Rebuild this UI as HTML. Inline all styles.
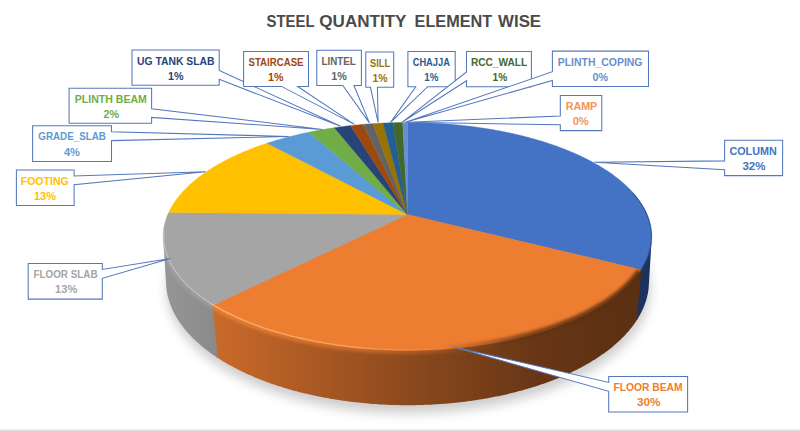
<!DOCTYPE html>
<html><head><meta charset="utf-8"><title>Steel Quantity Element Wise</title>
<style>
html,body{margin:0;padding:0;background:#fff;}
body{width:800px;height:431px;position:relative;overflow:hidden;font-family:"Liberation Sans",sans-serif;}
.lb{font:bold 10.5px "Liberation Sans",sans-serif;}
</style></head><body>
<svg width="800" height="431" viewBox="0 0 800 431" style="position:absolute;left:0;top:0">
<defs>
<linearGradient id="gO" gradientUnits="userSpaceOnUse" x1="214" y1="0" x2="645" y2="0">
<stop offset="0" stop-color="#C96A2A"/><stop offset="0.25" stop-color="#A85823"/><stop offset="0.5" stop-color="#86461C"/><stop offset="0.75" stop-color="#683616"/><stop offset="1" stop-color="#5A2F13"/>
</linearGradient>
<linearGradient id="gG" gradientUnits="userSpaceOnUse" x1="163" y1="0" x2="216" y2="0">
<stop offset="0" stop-color="#969696"/><stop offset="1" stop-color="#8A8A8A"/>
</linearGradient>
<filter id="blur6" x="-20%" y="-20%" width="140%" height="140%"><feGaussianBlur stdDeviation="6"/></filter>
<filter id="blur2" x="-20%" y="-20%" width="140%" height="140%"><feGaussianBlur stdDeviation="1.6"/></filter>
<linearGradient id="gHiO" gradientUnits="userSpaceOnUse" x1="214" y1="0" x2="520" y2="0">
<stop offset="0" stop-color="#F08537" stop-opacity="0.75"/><stop offset="0.5" stop-color="#E87B30" stop-opacity="0.55"/><stop offset="1" stop-color="#E0742C" stop-opacity="0"/>
</linearGradient>
<linearGradient id="gDk" gradientUnits="userSpaceOnUse" x1="440" y1="0" x2="650" y2="0">
<stop offset="0" stop-color="#6B3917" stop-opacity="0"/><stop offset="0.4" stop-color="#63340F" stop-opacity="0.75"/><stop offset="1" stop-color="#552B0C" stop-opacity="0.9"/>
</linearGradient>
<linearGradient id="gEdgeO" gradientUnits="userSpaceOnUse" x1="214" y1="0" x2="450" y2="0">
<stop offset="0" stop-color="#FFB274" stop-opacity="0.95"/><stop offset="0.6" stop-color="#FBA766" stop-opacity="0.8"/><stop offset="1" stop-color="#F59B58" stop-opacity="0"/>
</linearGradient>
<clipPath id="pieclip"><polygon points="407.50,122.50 411.01,122.51 414.51,122.54 418.02,122.60 421.52,122.68 425.02,122.79 428.52,122.92 432.02,123.07 435.51,123.25 438.99,123.45 442.48,123.67 445.95,123.92 449.42,124.19 452.89,124.48 456.34,124.80 459.79,125.14 463.23,125.50 466.66,125.89 470.09,126.30 473.50,126.74 476.90,127.19 480.29,127.67 483.67,128.18 487.03,128.71 490.38,129.26 493.72,129.83 497.05,130.43 500.36,131.05 503.65,131.70 506.93,132.37 510.19,133.06 513.43,133.77 516.66,134.51 519.87,135.27 523.05,136.06 526.22,136.86 529.37,137.69 532.49,138.55 535.60,139.43 538.68,140.33 541.73,141.25 544.77,142.19 547.78,143.16 550.76,144.16 553.71,145.17 556.64,146.21 559.55,147.27 562.42,148.35 565.26,149.46 568.08,150.58 570.86,151.73 573.61,152.91 576.33,154.10 579.02,155.32 581.67,156.56 584.29,157.82 586.87,159.10 589.41,160.41 591.92,161.73 594.39,163.08 596.82,164.45 599.21,165.84 601.56,167.25 603.87,168.68 606.14,170.14 608.36,171.61 610.54,173.11 612.68,174.62 614.77,176.16 616.81,177.71 618.80,179.28 620.75,180.88 622.64,182.49 624.49,184.12 626.28,185.77 628.02,187.44 629.71,189.13 631.34,190.84 632.92,192.56 634.45,194.30 635.91,196.06 637.32,197.83 638.66,199.62 639.95,201.43 641.18,203.25 642.34,205.09 643.45,206.95 644.48,208.81 645.46,210.70 646.37,212.59 647.21,214.50 647.98,216.42 648.69,218.36 649.32,220.30 649.89,222.26 650.38,224.23 650.80,226.21 651.15,228.20 651.43,230.20 651.63,232.20 651.75,234.22 651.80,236.24 651.77,238.27 651.66,240.31 651.48,242.35 651.21,244.40 650.87,246.45 650.44,248.51 649.93,250.57 649.34,252.63 648.67,254.69 647.91,256.76 647.07,258.82 646.15,260.88 645.14,262.95 644.04,265.01 642.86,267.06 641.59,269.12 640.24,271.16 638.79,273.21 637.26,275.24 635.65,277.27 633.94,279.29 632.15,281.30 630.27,283.30 628.30,285.29 626.24,287.27 624.10,289.24 621.86,291.19 619.54,293.12 617.13,295.04 614.64,296.95 612.05,298.83 609.38,300.70 606.63,302.55 603.79,304.38 600.86,306.18 597.85,307.97 594.75,309.73 591.57,311.46 588.31,313.17 584.97,314.85 581.55,316.51 578.05,318.13 574.47,319.73 570.81,321.29 567.08,322.83 563.27,324.33 559.38,325.80 555.43,327.23 551.41,328.63 547.31,329.99 543.15,331.32 538.93,332.61 534.63,333.86 530.28,335.07 525.87,336.23 521.40,337.36 516.87,338.45 512.28,339.49 507.65,340.49 502.96,341.45 498.23,342.36 493.45,343.22 488.62,344.04 483.76,344.81 478.85,345.54 473.91,346.22 468.94,346.85 463.93,347.43 458.89,347.96 453.83,348.44 448.74,348.87 443.63,349.26 438.51,349.59 433.36,349.87 428.21,350.10 423.04,350.28 417.86,350.41 412.68,350.48 407.50,350.51 402.32,350.48 397.14,350.41 391.96,350.28 386.79,350.10 381.64,349.87 376.49,349.59 371.37,349.26 366.26,348.87 361.17,348.44 356.11,347.96 351.07,347.43 346.06,346.85 341.09,346.22 336.15,345.54 331.24,344.81 326.38,344.04 321.55,343.22 316.77,342.36 312.04,341.45 307.35,340.49 302.72,339.49 298.13,338.45 293.60,337.36 289.13,336.23 284.72,335.07 280.37,333.86 276.07,332.61 271.85,331.32 267.69,329.99 263.59,328.63 259.57,327.23 255.62,325.80 251.73,324.33 247.92,322.83 244.19,321.29 240.53,319.73 236.95,318.13 233.45,316.51 230.03,314.85 226.69,313.17 223.43,311.46 220.25,309.73 217.15,307.97 214.14,306.18 211.21,304.38 208.37,302.55 205.62,300.70 202.95,298.83 200.36,296.95 197.87,295.04 195.46,293.12 193.14,291.19 190.90,289.24 188.76,287.27 186.70,285.29 184.73,283.30 182.85,281.30 181.06,279.29 179.35,277.27 177.74,275.24 176.21,273.21 174.76,271.16 173.41,269.12 172.14,267.06 170.96,265.01 169.86,262.95 168.85,260.88 167.93,258.82 167.09,256.76 166.33,254.69 165.66,252.63 165.07,250.57 164.56,248.51 164.13,246.45 163.79,244.40 163.52,242.35 163.34,240.31 163.23,238.27 163.20,236.24 163.25,234.22 163.37,232.20 163.57,230.20 163.85,228.20 164.20,226.21 164.62,224.23 165.11,222.26 165.68,220.30 166.31,218.36 167.02,216.42 167.79,214.50 168.63,212.59 169.54,210.70 170.52,208.81 171.55,206.95 172.66,205.09 173.82,203.25 175.05,201.43 176.34,199.62 177.68,197.83 179.09,196.06 180.55,194.30 182.08,192.56 183.66,190.84 185.29,189.13 186.98,187.44 188.72,185.77 190.51,184.12 192.36,182.49 194.25,180.88 196.20,179.28 198.19,177.71 200.23,176.16 202.32,174.62 204.46,173.11 206.64,171.61 208.86,170.14 211.13,168.68 213.44,167.25 215.79,165.84 218.18,164.45 220.61,163.08 223.08,161.73 225.59,160.41 228.13,159.10 230.71,157.82 233.33,156.56 235.98,155.32 238.67,154.10 241.39,152.91 244.14,151.73 246.92,150.58 249.74,149.46 252.58,148.35 255.45,147.27 258.36,146.21 261.29,145.17 264.24,144.16 267.22,143.16 270.23,142.19 273.27,141.25 276.32,140.33 279.40,139.43 282.51,138.55 285.63,137.69 288.78,136.86 291.95,136.06 295.13,135.27 298.34,134.51 301.57,133.77 304.81,133.06 308.07,132.37 311.35,131.70 314.64,131.05 317.95,130.43 321.28,129.83 324.62,129.26 327.97,128.71 331.33,128.18 334.71,127.67 338.10,127.19 341.50,126.74 344.91,126.30 348.34,125.89 351.77,125.50 355.21,125.14 358.66,124.80 362.11,124.48 365.58,124.19 369.05,123.92 372.52,123.67 376.01,123.45 379.49,123.25 382.98,123.07 386.48,122.92 389.98,122.79 393.48,122.68 396.98,122.60 400.49,122.54 403.99,122.51 407.50,122.50"/><polygon points="651.69,239.87 651.52,241.92 651.28,243.97 650.95,246.03 650.54,248.09 650.04,250.15 649.47,252.22 648.81,254.29 648.07,256.36 647.24,258.43 646.33,260.50 645.33,262.57 644.25,264.63 643.08,266.69 641.82,268.75 640.48,270.81 639.05,272.86 637.53,274.90 635.92,276.94 634.22,278.96 632.44,280.98 630.57,282.99 628.61,284.99 626.56,286.97 624.42,288.95 622.19,290.90 619.88,292.85 617.47,294.78 614.98,296.69 612.41,298.58 609.74,300.46 606.99,302.31 604.15,304.15 601.22,305.96 598.21,307.75 595.12,309.52 591.94,311.26 588.68,312.98 585.34,314.67 581.92,316.33 578.41,317.96 574.83,319.57 571.17,321.14 567.43,322.68 563.62,324.19 559.74,325.67 555.78,327.11 551.75,328.52 547.65,329.88 543.48,331.22 539.25,332.51 534.95,333.77 530.59,334.98 526.17,336.16 521.68,337.29 517.15,338.38 512.55,339.43 507.91,340.44 503.21,341.40 498.47,342.31 493.67,343.18 488.84,344.01 483.96,344.78 479.05,345.51 474.09,346.19 469.10,346.83 464.08,347.41 459.03,347.94 453.96,348.43 448.86,348.86 443.74,349.25 438.59,349.58 433.44,349.87 428.27,350.10 423.08,350.28 417.89,350.41 412.70,350.48 407.50,350.51 402.30,350.48 397.11,350.41 391.92,350.28 386.73,350.10 381.56,349.87 376.41,349.58 371.26,349.25 366.14,348.86 361.04,348.43 355.97,347.94 350.92,347.41 345.90,346.83 340.91,346.19 335.95,345.51 331.04,344.78 326.16,344.01 321.33,343.18 316.53,342.31 311.79,341.40 307.09,340.44 302.45,339.43 297.85,338.38 293.32,337.29 288.83,336.16 284.41,334.98 280.05,333.77 275.75,332.51 271.52,331.22 267.35,329.88 263.25,328.52 259.22,327.11 255.26,325.67 251.38,324.19 247.57,322.68 243.83,321.14 240.17,319.57 236.59,317.96 233.08,316.33 229.66,314.67 226.32,312.98 223.06,311.26 219.88,309.52 216.79,307.75 213.78,305.96 210.85,304.15 208.01,302.31 205.26,300.46 202.59,298.58 200.02,296.69 197.53,294.78 195.12,292.85 192.81,290.90 190.58,288.95 188.44,286.97 186.39,284.99 184.43,282.99 182.56,280.98 180.78,278.96 179.08,276.94 177.47,274.90 175.95,272.86 174.52,270.81 173.18,268.75 171.92,266.69 170.75,264.63 169.67,262.57 168.67,260.50 167.76,258.43 166.93,256.36 166.19,254.29 165.53,252.22 164.96,250.15 164.46,248.09 164.05,246.03 163.72,243.97 163.48,241.92 163.31,239.87 166.34,287.81 166.61,290.03 166.96,292.25 167.39,294.48 167.90,296.71 168.49,298.95 169.16,301.18 169.91,303.41 170.74,305.64 171.65,307.87 172.65,310.10 173.73,312.33 174.90,314.55 176.15,316.76 177.48,318.97 178.89,321.17 180.39,323.37 181.98,325.56 183.65,327.73 185.40,329.90 187.24,332.05 189.17,334.20 191.18,336.32 193.27,338.44 195.45,340.54 197.71,342.62 200.05,344.69 202.48,346.73 204.99,348.76 207.59,350.77 210.27,352.76 213.02,354.72 215.86,356.66 218.78,358.58 221.78,360.47 224.86,362.33 228.02,364.17 231.26,365.98 234.57,367.75 237.95,369.50 241.42,371.22 244.95,372.91 248.56,374.56 252.24,376.18 255.98,377.76 259.80,379.30 263.68,380.81 267.63,382.29 271.64,383.72 275.72,385.11 279.86,386.46 284.05,387.78 288.31,389.04 292.62,390.27 296.98,391.45 301.40,392.59 305.86,393.68 310.38,394.73 314.94,395.73 319.54,396.68 324.19,397.59 328.88,398.44 333.60,399.25 338.37,400.01 343.16,400.72 347.99,401.38 352.85,401.98 357.73,402.54 362.64,403.04 367.56,403.49 372.51,403.89 377.48,404.24 382.46,404.53 387.45,404.77 392.46,404.96 397.47,405.09 402.48,405.17 407.50,405.20 412.52,405.17 417.53,405.09 422.54,404.96 427.55,404.77 432.54,404.53 437.52,404.24 442.49,403.89 447.44,403.49 452.36,403.04 457.27,402.54 462.15,401.98 467.01,401.38 471.84,400.72 476.63,400.01 481.40,399.25 486.12,398.44 490.81,397.59 495.46,396.68 500.06,395.73 504.62,394.73 509.14,393.68 513.60,392.59 518.02,391.45 522.38,390.27 526.69,389.04 530.95,387.78 535.14,386.46 539.28,385.11 543.36,383.72 547.37,382.29 551.32,380.81 555.20,379.30 559.02,377.76 562.76,376.18 566.44,374.56 570.05,372.91 573.58,371.22 577.05,369.50 580.43,367.75 583.74,365.98 586.98,364.17 590.14,362.33 593.22,360.47 596.22,358.58 599.14,356.66 601.98,354.72 604.73,352.76 607.41,350.77 610.01,348.76 612.52,346.73 614.95,344.69 617.29,342.62 619.55,340.54 621.73,338.44 623.82,336.32 625.83,334.20 627.76,332.05 629.60,329.90 631.35,327.73 633.02,325.56 634.61,323.37 636.11,321.17 637.52,318.97 638.85,316.76 640.10,314.55 641.27,312.33 642.35,310.10 643.35,307.87 644.26,305.64 645.09,303.41 645.84,301.18 646.51,298.95 647.10,296.71 647.61,294.48 648.04,292.25 648.39,290.03 648.66,287.81"/></clipPath>
<clipPath id="sideclip"><polygon points="651.69,239.87 651.52,241.92 651.28,243.97 650.95,246.03 650.54,248.09 650.04,250.15 649.47,252.22 648.81,254.29 648.07,256.36 647.24,258.43 646.33,260.50 645.33,262.57 644.25,264.63 643.08,266.69 641.82,268.75 640.48,270.81 639.05,272.86 637.53,274.90 635.92,276.94 634.22,278.96 632.44,280.98 630.57,282.99 628.61,284.99 626.56,286.97 624.42,288.95 622.19,290.90 619.88,292.85 617.47,294.78 614.98,296.69 612.41,298.58 609.74,300.46 606.99,302.31 604.15,304.15 601.22,305.96 598.21,307.75 595.12,309.52 591.94,311.26 588.68,312.98 585.34,314.67 581.92,316.33 578.41,317.96 574.83,319.57 571.17,321.14 567.43,322.68 563.62,324.19 559.74,325.67 555.78,327.11 551.75,328.52 547.65,329.88 543.48,331.22 539.25,332.51 534.95,333.77 530.59,334.98 526.17,336.16 521.68,337.29 517.15,338.38 512.55,339.43 507.91,340.44 503.21,341.40 498.47,342.31 493.67,343.18 488.84,344.01 483.96,344.78 479.05,345.51 474.09,346.19 469.10,346.83 464.08,347.41 459.03,347.94 453.96,348.43 448.86,348.86 443.74,349.25 438.59,349.58 433.44,349.87 428.27,350.10 423.08,350.28 417.89,350.41 412.70,350.48 407.50,350.51 402.30,350.48 397.11,350.41 391.92,350.28 386.73,350.10 381.56,349.87 376.41,349.58 371.26,349.25 366.14,348.86 361.04,348.43 355.97,347.94 350.92,347.41 345.90,346.83 340.91,346.19 335.95,345.51 331.04,344.78 326.16,344.01 321.33,343.18 316.53,342.31 311.79,341.40 307.09,340.44 302.45,339.43 297.85,338.38 293.32,337.29 288.83,336.16 284.41,334.98 280.05,333.77 275.75,332.51 271.52,331.22 267.35,329.88 263.25,328.52 259.22,327.11 255.26,325.67 251.38,324.19 247.57,322.68 243.83,321.14 240.17,319.57 236.59,317.96 233.08,316.33 229.66,314.67 226.32,312.98 223.06,311.26 219.88,309.52 216.79,307.75 213.78,305.96 210.85,304.15 208.01,302.31 205.26,300.46 202.59,298.58 200.02,296.69 197.53,294.78 195.12,292.85 192.81,290.90 190.58,288.95 188.44,286.97 186.39,284.99 184.43,282.99 182.56,280.98 180.78,278.96 179.08,276.94 177.47,274.90 175.95,272.86 174.52,270.81 173.18,268.75 171.92,266.69 170.75,264.63 169.67,262.57 168.67,260.50 167.76,258.43 166.93,256.36 166.19,254.29 165.53,252.22 164.96,250.15 164.46,248.09 164.05,246.03 163.72,243.97 163.48,241.92 163.31,239.87 166.34,287.81 166.61,290.03 166.96,292.25 167.39,294.48 167.90,296.71 168.49,298.95 169.16,301.18 169.91,303.41 170.74,305.64 171.65,307.87 172.65,310.10 173.73,312.33 174.90,314.55 176.15,316.76 177.48,318.97 178.89,321.17 180.39,323.37 181.98,325.56 183.65,327.73 185.40,329.90 187.24,332.05 189.17,334.20 191.18,336.32 193.27,338.44 195.45,340.54 197.71,342.62 200.05,344.69 202.48,346.73 204.99,348.76 207.59,350.77 210.27,352.76 213.02,354.72 215.86,356.66 218.78,358.58 221.78,360.47 224.86,362.33 228.02,364.17 231.26,365.98 234.57,367.75 237.95,369.50 241.42,371.22 244.95,372.91 248.56,374.56 252.24,376.18 255.98,377.76 259.80,379.30 263.68,380.81 267.63,382.29 271.64,383.72 275.72,385.11 279.86,386.46 284.05,387.78 288.31,389.04 292.62,390.27 296.98,391.45 301.40,392.59 305.86,393.68 310.38,394.73 314.94,395.73 319.54,396.68 324.19,397.59 328.88,398.44 333.60,399.25 338.37,400.01 343.16,400.72 347.99,401.38 352.85,401.98 357.73,402.54 362.64,403.04 367.56,403.49 372.51,403.89 377.48,404.24 382.46,404.53 387.45,404.77 392.46,404.96 397.47,405.09 402.48,405.17 407.50,405.20 412.52,405.17 417.53,405.09 422.54,404.96 427.55,404.77 432.54,404.53 437.52,404.24 442.49,403.89 447.44,403.49 452.36,403.04 457.27,402.54 462.15,401.98 467.01,401.38 471.84,400.72 476.63,400.01 481.40,399.25 486.12,398.44 490.81,397.59 495.46,396.68 500.06,395.73 504.62,394.73 509.14,393.68 513.60,392.59 518.02,391.45 522.38,390.27 526.69,389.04 530.95,387.78 535.14,386.46 539.28,385.11 543.36,383.72 547.37,382.29 551.32,380.81 555.20,379.30 559.02,377.76 562.76,376.18 566.44,374.56 570.05,372.91 573.58,371.22 577.05,369.50 580.43,367.75 583.74,365.98 586.98,364.17 590.14,362.33 593.22,360.47 596.22,358.58 599.14,356.66 601.98,354.72 604.73,352.76 607.41,350.77 610.01,348.76 612.52,346.73 614.95,344.69 617.29,342.62 619.55,340.54 621.73,338.44 623.82,336.32 625.83,334.20 627.76,332.05 629.60,329.90 631.35,327.73 633.02,325.56 634.61,323.37 636.11,321.17 637.52,318.97 638.85,316.76 640.10,314.55 641.27,312.33 642.35,310.10 643.35,307.87 644.26,305.64 645.09,303.41 645.84,301.18 646.51,298.95 647.10,296.71 647.61,294.48 648.04,292.25 648.39,290.03 648.66,287.81"/></clipPath>
<clipPath id="topclip"><polygon points="407.50,122.50 411.01,122.51 414.51,122.54 418.02,122.60 421.52,122.68 425.02,122.79 428.52,122.92 432.02,123.07 435.51,123.25 438.99,123.45 442.48,123.67 445.95,123.92 449.42,124.19 452.89,124.48 456.34,124.80 459.79,125.14 463.23,125.50 466.66,125.89 470.09,126.30 473.50,126.74 476.90,127.19 480.29,127.67 483.67,128.18 487.03,128.71 490.38,129.26 493.72,129.83 497.05,130.43 500.36,131.05 503.65,131.70 506.93,132.37 510.19,133.06 513.43,133.77 516.66,134.51 519.87,135.27 523.05,136.06 526.22,136.86 529.37,137.69 532.49,138.55 535.60,139.43 538.68,140.33 541.73,141.25 544.77,142.19 547.78,143.16 550.76,144.16 553.71,145.17 556.64,146.21 559.55,147.27 562.42,148.35 565.26,149.46 568.08,150.58 570.86,151.73 573.61,152.91 576.33,154.10 579.02,155.32 581.67,156.56 584.29,157.82 586.87,159.10 589.41,160.41 591.92,161.73 594.39,163.08 596.82,164.45 599.21,165.84 601.56,167.25 603.87,168.68 606.14,170.14 608.36,171.61 610.54,173.11 612.68,174.62 614.77,176.16 616.81,177.71 618.80,179.28 620.75,180.88 622.64,182.49 624.49,184.12 626.28,185.77 628.02,187.44 629.71,189.13 631.34,190.84 632.92,192.56 634.45,194.30 635.91,196.06 637.32,197.83 638.66,199.62 639.95,201.43 641.18,203.25 642.34,205.09 643.45,206.95 644.48,208.81 645.46,210.70 646.37,212.59 647.21,214.50 647.98,216.42 648.69,218.36 649.32,220.30 649.89,222.26 650.38,224.23 650.80,226.21 651.15,228.20 651.43,230.20 651.63,232.20 651.75,234.22 651.80,236.24 651.77,238.27 651.66,240.31 651.48,242.35 651.21,244.40 650.87,246.45 650.44,248.51 649.93,250.57 649.34,252.63 648.67,254.69 647.91,256.76 647.07,258.82 646.15,260.88 645.14,262.95 644.04,265.01 642.86,267.06 641.59,269.12 640.24,271.16 638.79,273.21 637.26,275.24 635.65,277.27 633.94,279.29 632.15,281.30 630.27,283.30 628.30,285.29 626.24,287.27 624.10,289.24 621.86,291.19 619.54,293.12 617.13,295.04 614.64,296.95 612.05,298.83 609.38,300.70 606.63,302.55 603.79,304.38 600.86,306.18 597.85,307.97 594.75,309.73 591.57,311.46 588.31,313.17 584.97,314.85 581.55,316.51 578.05,318.13 574.47,319.73 570.81,321.29 567.08,322.83 563.27,324.33 559.38,325.80 555.43,327.23 551.41,328.63 547.31,329.99 543.15,331.32 538.93,332.61 534.63,333.86 530.28,335.07 525.87,336.23 521.40,337.36 516.87,338.45 512.28,339.49 507.65,340.49 502.96,341.45 498.23,342.36 493.45,343.22 488.62,344.04 483.76,344.81 478.85,345.54 473.91,346.22 468.94,346.85 463.93,347.43 458.89,347.96 453.83,348.44 448.74,348.87 443.63,349.26 438.51,349.59 433.36,349.87 428.21,350.10 423.04,350.28 417.86,350.41 412.68,350.48 407.50,350.51 402.32,350.48 397.14,350.41 391.96,350.28 386.79,350.10 381.64,349.87 376.49,349.59 371.37,349.26 366.26,348.87 361.17,348.44 356.11,347.96 351.07,347.43 346.06,346.85 341.09,346.22 336.15,345.54 331.24,344.81 326.38,344.04 321.55,343.22 316.77,342.36 312.04,341.45 307.35,340.49 302.72,339.49 298.13,338.45 293.60,337.36 289.13,336.23 284.72,335.07 280.37,333.86 276.07,332.61 271.85,331.32 267.69,329.99 263.59,328.63 259.57,327.23 255.62,325.80 251.73,324.33 247.92,322.83 244.19,321.29 240.53,319.73 236.95,318.13 233.45,316.51 230.03,314.85 226.69,313.17 223.43,311.46 220.25,309.73 217.15,307.97 214.14,306.18 211.21,304.38 208.37,302.55 205.62,300.70 202.95,298.83 200.36,296.95 197.87,295.04 195.46,293.12 193.14,291.19 190.90,289.24 188.76,287.27 186.70,285.29 184.73,283.30 182.85,281.30 181.06,279.29 179.35,277.27 177.74,275.24 176.21,273.21 174.76,271.16 173.41,269.12 172.14,267.06 170.96,265.01 169.86,262.95 168.85,260.88 167.93,258.82 167.09,256.76 166.33,254.69 165.66,252.63 165.07,250.57 164.56,248.51 164.13,246.45 163.79,244.40 163.52,242.35 163.34,240.31 163.23,238.27 163.20,236.24 163.25,234.22 163.37,232.20 163.57,230.20 163.85,228.20 164.20,226.21 164.62,224.23 165.11,222.26 165.68,220.30 166.31,218.36 167.02,216.42 167.79,214.50 168.63,212.59 169.54,210.70 170.52,208.81 171.55,206.95 172.66,205.09 173.82,203.25 175.05,201.43 176.34,199.62 177.68,197.83 179.09,196.06 180.55,194.30 182.08,192.56 183.66,190.84 185.29,189.13 186.98,187.44 188.72,185.77 190.51,184.12 192.36,182.49 194.25,180.88 196.20,179.28 198.19,177.71 200.23,176.16 202.32,174.62 204.46,173.11 206.64,171.61 208.86,170.14 211.13,168.68 213.44,167.25 215.79,165.84 218.18,164.45 220.61,163.08 223.08,161.73 225.59,160.41 228.13,159.10 230.71,157.82 233.33,156.56 235.98,155.32 238.67,154.10 241.39,152.91 244.14,151.73 246.92,150.58 249.74,149.46 252.58,148.35 255.45,147.27 258.36,146.21 261.29,145.17 264.24,144.16 267.22,143.16 270.23,142.19 273.27,141.25 276.32,140.33 279.40,139.43 282.51,138.55 285.63,137.69 288.78,136.86 291.95,136.06 295.13,135.27 298.34,134.51 301.57,133.77 304.81,133.06 308.07,132.37 311.35,131.70 314.64,131.05 317.95,130.43 321.28,129.83 324.62,129.26 327.97,128.71 331.33,128.18 334.71,127.67 338.10,127.19 341.50,126.74 344.91,126.30 348.34,125.89 351.77,125.50 355.21,125.14 358.66,124.80 362.11,124.48 365.58,124.19 369.05,123.92 372.52,123.67 376.01,123.45 379.49,123.25 382.98,123.07 386.48,122.92 389.98,122.79 393.48,122.68 396.98,122.60 400.49,122.54 403.99,122.51 407.50,122.50"/></clipPath>
</defs>
<polygon points="407.50,157.20 414.60,157.25 421.69,157.41 428.78,157.68 435.85,158.06 442.90,158.54 449.93,159.13 456.92,159.82 463.88,160.63 470.81,161.54 477.68,162.55 484.51,163.67 491.29,164.90 498.00,166.24 504.65,167.67 511.22,169.22 517.72,170.87 524.14,172.62 530.47,174.48 536.71,176.44 542.85,178.50 548.88,180.67 554.80,182.94 560.61,185.31 566.29,187.78 571.85,190.34 577.27,193.01 582.54,195.77 587.67,198.63 592.64,201.58 597.45,204.63 602.10,207.77 606.56,210.99 610.85,214.31 614.94,217.71 618.84,221.20 622.54,224.77 626.03,228.41 629.29,232.14 632.34,235.94 635.15,239.81 637.72,243.75 640.05,247.75 642.12,251.82 643.94,255.94 645.48,260.12 646.76,264.35 647.75,268.62 648.46,272.93 648.88,277.28 649.00,281.67 648.81,286.07 648.32,290.50 647.51,294.94 646.39,299.39 644.94,303.85 643.16,308.30 641.06,312.74 638.62,317.16 635.85,321.56 632.75,325.92 629.30,330.25 625.52,334.53 621.41,338.76 616.96,342.92 612.17,347.02 607.06,351.04 601.62,354.97 595.85,358.81 589.77,362.55 583.38,366.18 576.68,369.69 569.69,373.07 562.41,376.33 554.86,379.44 547.04,382.41 538.96,385.22 530.64,387.87 522.09,390.35 513.33,392.66 504.37,394.79 495.22,396.73 485.91,398.48 476.45,400.04 466.85,401.40 457.14,402.55 447.33,403.50 437.44,404.24 427.49,404.77 417.51,405.09 407.50,405.20 397.49,405.09 387.51,404.77 377.56,404.24 367.67,403.50 357.86,402.55 348.15,401.40 338.55,400.04 329.09,398.48 319.78,396.73 310.63,394.79 301.67,392.66 292.91,390.35 284.36,387.87 276.04,385.22 267.96,382.41 260.14,379.44 252.59,376.33 245.31,373.07 238.32,369.69 231.62,366.18 225.23,362.55 219.15,358.81 213.38,354.97 207.94,351.04 202.83,347.02 198.04,342.92 193.59,338.76 189.48,334.53 185.70,330.25 182.25,325.92 179.15,321.56 176.38,317.16 173.94,312.74 171.84,308.30 170.06,303.85 168.61,299.39 167.49,294.94 166.68,290.50 166.19,286.07 166.00,281.67 166.12,277.28 166.54,272.93 167.25,268.62 168.24,264.35 169.52,260.12 171.06,255.94 172.88,251.82 174.95,247.75 177.28,243.75 179.85,239.81 182.66,235.94 185.71,232.14 188.97,228.41 192.46,224.77 196.16,221.20 200.06,217.71 204.15,214.31 208.44,210.99 212.90,207.77 217.55,204.63 222.36,201.58 227.33,198.63 232.46,195.77 237.73,193.01 243.15,190.34 248.71,187.78 254.39,185.31 260.20,182.94 266.12,180.67 272.15,178.50 278.29,176.44 284.53,174.48 290.86,172.62 297.28,170.87 303.78,169.22 310.35,167.67 317.00,166.24 323.71,164.90 330.49,163.67 337.32,162.55 344.19,161.54 351.12,160.63 358.08,159.82 365.07,159.13 372.10,158.54 379.15,158.06 386.22,157.68 393.31,157.41 400.40,157.25 407.50,157.20" fill="#000" opacity="0.2" filter="url(#blur6)" transform="translate(1,8)"/>
<polygon points="641.87,267.48 641.21,268.51 640.53,269.53 639.83,270.56 639.10,271.58 638.36,272.60 637.59,273.62 636.80,274.64 635.98,275.66 635.15,276.67 634.29,277.68 633.42,278.69 632.52,279.70 631.59,280.70 630.65,281.71 629.68,282.71 628.69,283.70 627.68,284.70 626.65,285.69 625.59,286.67 624.52,287.66 623.42,288.64 622.30,289.62 621.15,290.59 619.99,291.56 618.80,292.52 617.59,293.49 616.36,294.44 615.11,295.40 613.83,296.35 612.53,297.29 611.21,298.23 609.87,299.17 608.51,300.10 607.13,301.02 605.72,301.94 604.30,302.86 602.85,303.76 601.38,304.67 599.89,305.57 598.38,306.46 596.84,307.35 595.29,308.23 593.71,309.10 592.12,309.97 590.50,310.83 588.87,311.68 587.21,312.53 585.53,313.37 583.83,314.21 582.11,315.04 580.38,315.86 578.62,316.67 576.84,317.48 575.04,318.27 573.23,319.07 571.39,319.85 569.54,320.62 567.66,321.39 565.77,322.15 563.86,322.90 561.93,323.64 559.98,324.38 558.01,325.10 556.03,325.82 554.03,326.53 552.01,327.23 549.97,327.92 547.92,328.60 545.85,329.27 543.76,329.93 541.65,330.58 539.53,331.23 537.39,331.86 535.24,332.48 533.07,333.10 530.89,333.70 528.69,334.29 526.48,334.88 524.25,335.45 522.00,336.01 519.74,336.56 517.47,337.11 515.19,337.64 512.89,338.16 510.57,338.67 508.25,339.16 505.91,339.65 503.56,340.13 501.20,340.59 498.82,341.04 496.44,341.49 494.04,341.92 491.63,342.34 489.21,342.74 486.78,343.14 484.34,343.52 481.89,343.90 479.43,344.26 476.96,344.60 474.48,344.94 472.00,345.26 469.50,345.58 467.00,345.88 464.49,346.16 461.97,346.44 459.45,346.70 456.92,346.95 454.38,347.19 451.83,347.42 449.28,347.63 446.73,347.83 444.17,348.02 441.60,348.19 439.03,348.36 436.46,348.51 433.88,348.64 431.30,348.77 428.72,348.88 426.13,348.98 423.54,349.06 420.95,349.14 418.35,349.20 415.76,349.24 413.16,349.28 410.57,349.30 407.97,349.31 405.37,349.31 402.78,349.29 400.18,349.26 397.58,349.22 394.99,349.16 392.40,349.09 389.81,349.01 387.22,348.92 384.64,348.81 382.05,348.69 379.47,348.56 376.90,348.41 374.33,348.25 371.76,348.08 369.20,347.90 366.64,347.70 364.09,347.50 361.54,347.27 359.00,347.04 356.47,346.79 353.94,346.54 351.42,346.27 348.91,345.98 346.40,345.69 343.90,345.38 341.41,345.06 338.93,344.73 336.46,344.38 334.00,344.03 331.55,343.66 329.10,343.28 326.67,342.89 324.24,342.49 321.83,342.07 319.43,341.64 317.04,341.21 314.66,340.76 312.29,340.30 309.94,339.82 307.60,339.34 305.27,338.85 302.95,338.34 300.64,337.83 298.35,337.30 296.08,336.76 293.81,336.21 291.56,335.65 289.33,335.09 287.11,334.51 284.91,333.92 282.72,333.32 280.54,332.71 278.38,332.09 276.24,331.46 274.11,330.82 272.00,330.17 269.91,329.51 267.83,328.84 265.77,328.16 263.73,327.48 261.70,326.78 259.69,326.08 257.70,325.36 255.73,324.64 253.77,323.91 251.84,323.17 249.92,322.42 248.02,321.67 246.14,320.90 244.28,320.13 242.43,319.35 240.61,318.56 238.81,317.77 237.02,316.96 235.26,316.15 233.51,315.33 231.79,314.51 230.08,313.68 228.40,312.84 226.73,311.99 225.09,311.14 223.46,310.28 221.86,309.41 220.28,308.54 218.72,307.66 217.18,306.78 215.66,305.89 214.16,304.99 212.68,304.09 211.23,303.19 216.24,356.91 217.69,357.87 219.17,358.82 220.66,359.77 222.17,360.71 223.71,361.64 225.26,362.56 226.83,363.48 228.43,364.40 230.04,365.30 231.67,366.20 233.32,367.09 234.98,367.97 236.67,368.85 238.38,369.72 240.10,370.58 241.85,371.43 243.61,372.27 245.39,373.11 247.18,373.94 249.00,374.76 250.83,375.57 252.68,376.37 254.55,377.16 256.43,377.94 258.34,378.72 260.25,379.49 262.19,380.24 264.14,380.99 266.11,381.73 268.10,382.45 270.10,383.17 272.11,383.88 274.14,384.58 276.19,385.27 278.25,385.95 280.33,386.62 282.42,387.27 284.53,387.92 286.65,388.56 288.79,389.18 290.94,389.80 293.10,390.40 295.27,391.00 297.46,391.58 299.67,392.15 301.88,392.71 304.11,393.26 306.35,393.80 308.60,394.33 310.87,394.84 313.14,395.34 315.43,395.83 317.73,396.31 320.03,396.78 322.35,397.24 324.68,397.68 327.02,398.11 329.37,398.53 331.73,398.94 334.10,399.33 336.47,399.72 338.86,400.09 341.25,400.44 343.65,400.79 346.06,401.12 348.48,401.44 350.90,401.75 353.33,402.04 355.77,402.32 358.21,402.59 360.66,402.85 363.12,403.09 365.58,403.32 368.05,403.53 370.52,403.74 372.99,403.93 375.47,404.10 377.95,404.27 380.44,404.42 382.93,404.56 385.43,404.68 387.92,404.79 390.42,404.89 392.92,404.97 395.42,405.04 397.93,405.10 400.43,405.15 402.94,405.18 405.45,405.20 407.95,405.20 410.46,405.19 412.97,405.17 415.47,405.13 417.98,405.08 420.48,405.02 422.98,404.94 425.48,404.86 427.98,404.75 430.48,404.64 432.97,404.51 435.46,404.37 437.94,404.21 440.43,404.04 442.91,403.86 445.38,403.67 447.85,403.46 450.31,403.24 452.77,403.00 455.22,402.75 457.67,402.49 460.11,402.22 462.55,401.94 464.98,401.64 467.40,401.33 469.81,401.00 472.22,400.66 474.62,400.32 477.01,399.95 479.39,399.58 481.76,399.19 484.13,398.79 486.48,398.38 488.83,397.96 491.16,397.52 493.49,397.07 495.80,396.61 498.11,396.14 500.40,395.66 502.68,395.16 504.95,394.66 507.21,394.14 509.46,393.61 511.70,393.06 513.92,392.51 516.13,391.95 518.33,391.37 520.51,390.78 522.69,390.19 524.84,389.58 526.99,388.96 529.12,388.33 531.23,387.69 533.34,387.04 535.42,386.38 537.49,385.70 539.55,385.02 541.59,384.33 543.62,383.63 545.63,382.91 547.62,382.19 549.60,381.46 551.57,380.72 553.51,379.97 555.44,379.21 557.35,378.44 559.25,377.66 561.13,376.87 562.99,376.08 564.83,375.27 566.66,374.46 568.47,373.64 570.26,372.81 572.03,371.97 573.79,371.12 575.52,370.27 577.24,369.40 578.94,368.53 580.62,367.66 582.28,366.77 583.93,365.88 585.55,364.98 587.15,364.07 588.74,363.15 590.30,362.23 591.85,361.30 593.38,360.37 594.88,359.42 596.37,358.48 597.84,357.52 599.28,356.56 600.71,355.59 602.12,354.62 603.50,353.64 604.87,352.66 606.21,351.67 607.54,350.67 608.84,349.67 610.13,348.67 611.39,347.65 612.63,346.64 613.86,345.62 615.06,344.59 616.24,343.56 617.40,342.53 618.53,341.49 619.65,340.45 620.75,339.40 621.82,338.35 622.88,337.29 623.91,336.23 624.92,335.17 625.91,334.11 626.88,333.04 627.83,331.97 628.76,330.89 629.67,329.81 630.55,328.73 631.42,327.65 632.26,326.56 633.08,325.47 633.88,324.38 634.66,323.29 635.42,322.19 636.16,321.09 636.88,320.00 637.57,318.89" fill="url(#gO)"/>
<polygon points="651.69,238.67 651.62,239.69 651.52,240.71 651.41,241.74 651.28,242.76 651.12,243.79 650.95,244.81 650.75,245.84 650.54,246.87 650.30,247.90 650.05,248.93 649.77,249.96 649.48,250.99 649.16,252.02 648.82,253.05 648.46,254.08 648.08,255.12 647.68,256.15 647.26,257.18 646.82,258.21 646.35,259.25 645.87,260.28 645.36,261.31 644.83,262.34 644.28,263.37 643.71,264.40 643.12,265.43 642.50,266.45 641.87,267.48 641.21,268.51 636.88,319.99 637.57,318.89 638.25,317.79 638.90,316.69 639.53,315.58 640.14,314.48 640.73,313.37 641.30,312.26 641.85,311.16 642.38,310.05 642.88,308.93 643.37,307.82 643.83,306.71 644.28,305.60 644.70,304.48 645.11,303.37 645.49,302.26 645.86,301.14 646.20,300.03 646.52,298.92 646.83,297.80 647.11,296.69 647.37,295.58 647.61,294.47 647.84,293.35 648.04,292.24 648.22,291.13 648.39,290.02 648.53,288.92 648.66,287.81" fill="#1C325C"/>
<polygon points="212.68,304.09 211.22,303.18 209.77,302.26 208.36,301.34 206.96,300.41 205.58,299.48 204.23,298.54 202.90,297.60 201.58,296.65 200.30,295.70 199.03,294.74 197.79,293.78 196.56,292.82 195.36,291.85 194.19,290.87 193.03,289.90 191.90,288.92 190.79,287.93 189.70,286.94 188.63,285.95 187.59,284.96 186.57,283.96 185.57,282.96 184.59,281.96 183.64,280.95 182.70,279.94 181.79,278.93 180.91,277.91 180.04,276.90 179.20,275.88 178.38,274.86 177.58,273.84 176.80,272.81 176.05,271.79 175.31,270.76 174.60,269.73 173.92,268.70 173.25,267.67 172.61,266.63 171.98,265.60 171.38,264.57 170.81,263.53 170.25,262.49 169.71,261.46 169.20,260.42 168.71,259.38 168.24,258.34 167.79,257.30 167.36,256.26 166.96,255.22 166.57,254.19 166.21,253.15 165.87,252.11 165.55,251.07 165.25,250.03 164.97,248.99 164.71,247.96 164.47,246.92 164.26,245.89 164.06,244.85 163.88,243.82 163.73,242.79 163.59,241.76 163.48,240.73 163.38,239.70 163.31,238.67 166.34,287.81 166.47,288.92 166.61,290.04 166.78,291.15 166.96,292.27 167.17,293.39 167.40,294.51 167.64,295.63 167.91,296.75 168.19,297.87 168.50,298.99 168.82,300.11 169.17,301.23 169.54,302.35 169.93,303.47 170.34,304.59 170.77,305.71 171.22,306.83 171.69,307.95 172.18,309.07 172.69,310.19 173.23,311.31 173.78,312.42 174.36,313.54 174.95,314.65 175.57,315.76 176.21,316.88 176.87,317.99 177.55,319.09 178.26,320.20 178.98,321.31 179.73,322.41 180.49,323.51 181.28,324.61 182.09,325.70 182.92,326.80 183.77,327.89 184.64,328.98 185.54,330.06 186.45,331.14 187.39,332.22 188.35,333.30 189.33,334.37 190.33,335.44 191.35,336.51 192.40,337.57 193.46,338.63 194.55,339.69 195.66,340.74 196.79,341.78 197.94,342.83 199.11,343.86 200.30,344.90 201.51,345.93 202.75,346.95 204.00,347.97 205.28,348.98 206.57,349.99 207.89,351.00 209.23,352.00 210.59,352.99 211.97,353.98 213.37,354.96 214.79,355.93 216.23,356.90 217.69,357.87" fill="url(#gG)"/>
<g clip-path="url(#sideclip)">
<polyline points="551.41,328.63 547.29,330.00 543.10,331.34 538.84,332.63 534.52,333.89 530.13,335.11 525.69,336.28 521.18,337.41 516.62,338.50 512.01,339.55 507.33,340.56 502.61,341.51 497.84,342.43 493.03,343.30 488.17,344.12 483.27,344.89 478.32,345.61 473.35,346.29 468.33,346.92 463.29,347.50 458.22,348.03 453.12,348.50 447.99,348.93 442.85,349.31 437.68,349.64 432.50,349.91 427.31,350.13 422.10,350.31 416.89,350.43 411.68,350.49 406.46,350.51 401.24,350.47 396.02,350.38 390.82,350.24 385.62,350.05 380.43,349.81 375.25,349.51 370.10,349.17 364.96,348.77 359.84,348.32 354.75,347.82 349.69,347.27 344.66,346.67 339.66,346.03 334.70,345.33 329.77,344.59 324.89,343.79 320.04,342.95 315.24,342.07 310.49,341.14 305.79,340.16 301.14,339.14 296.55,338.07 292.01,336.97 287.53,335.82 283.11,334.62 278.75,333.39 274.45,332.12 270.22,330.81 266.06,329.46 261.97,328.07 257.94,326.65 253.99,325.19 250.12,323.70 246.31,322.17 242.59,320.62 238.94,319.03 235.37,317.41 231.88,315.76 228.47,314.08 225.15,312.37 221.90,310.64 218.74,308.88 215.67,307.10 212.68,305.29" fill="none" stroke="url(#gHiO)" stroke-width="7" filter="url(#blur2)"/>
<polyline points="212.68,305.29 209.75,303.45 206.91,301.58 204.16,299.69 201.50,297.79 198.92,295.86 196.44,293.92 194.05,291.96 191.75,289.98 189.53,287.99 187.41,285.99 185.38,283.97 183.44,281.94 181.60,279.91 179.84,277.86 178.17,275.80 176.59,273.73 175.11,271.66 173.71,269.59 172.40,267.50 171.19,265.41 170.06,263.32 169.02,261.23 168.06,259.14 167.20,257.04 166.42,254.95 165.72,252.85 165.12,250.76 164.59,248.67 164.16,246.58 163.80,244.50 163.53,242.42 163.34,240.34 163.23,238.27" fill="none" stroke="#A3A3A3" stroke-opacity="0.7" stroke-width="7" filter="url(#blur2)"/>
</g>
<polygon points="407.50,214.50 407.50,122.50 409.26,122.50 411.02,122.51 412.77,122.52 414.53,122.54 416.29,122.57 418.04,122.60 419.80,122.64 421.56,122.69 423.31,122.74 425.07,122.79 426.82,122.85 428.57,122.92 430.33,123.00 432.08,123.08 433.83,123.16 435.58,123.25 437.32,123.35 439.07,123.45 440.82,123.56 442.56,123.68 444.31,123.80 446.05,123.92 447.79,124.06 449.53,124.20 451.26,124.34 453.00,124.49 454.73,124.65 456.46,124.81 458.19,124.98 459.92,125.15 461.64,125.33 463.37,125.52 465.09,125.71 466.81,125.91 468.52,126.11 470.24,126.32 471.95,126.54 473.66,126.76 475.36,126.98 477.07,127.22 478.77,127.46 480.46,127.70 482.16,127.95 483.85,128.21 485.54,128.47 487.22,128.74 488.90,129.01 490.58,129.29 492.26,129.58 493.93,129.87 495.60,130.17 497.26,130.47 498.92,130.78 500.58,131.10 502.23,131.42 503.88,131.74 505.52,132.08 507.16,132.41 508.80,132.76 510.43,133.11 512.06,133.47 513.68,133.83 515.30,134.20 516.91,134.57 518.52,134.95 520.13,135.33 521.72,135.73 523.32,136.12 524.91,136.53 526.49,136.93 528.07,137.35 529.65,137.77 531.21,138.20 532.78,138.63 534.33,139.07 535.89,139.51 537.43,139.96 538.97,140.41 540.51,140.87 542.03,141.34 543.56,141.81 545.07,142.29 546.58,142.78 548.09,143.27 549.58,143.76 551.07,144.26 552.56,144.77 554.03,145.28 555.50,145.80 556.97,146.32 558.42,146.85 559.87,147.39 561.31,147.93 562.75,148.48 564.18,149.03 565.60,149.59 567.01,150.15 568.41,150.72 569.81,151.30 571.20,151.88 572.58,152.46 573.95,153.06 575.32,153.65 576.68,154.26 578.02,154.86 579.36,155.48 580.70,156.10 582.02,156.72 583.33,157.35 584.64,157.99 585.93,158.63 587.22,159.28 588.50,159.93 589.77,160.59 591.03,161.25 592.28,161.92 593.52,162.60 594.75,163.28 595.97,163.96 597.18,164.65 598.38,165.35 599.57,166.05 600.75,166.76 601.92,167.47 603.08,168.19 604.23,168.91 605.37,169.64 606.49,170.37 607.61,171.11 608.72,171.85 609.81,172.60 610.89,173.35 611.97,174.11 613.03,174.87 614.08,175.64 615.11,176.41 616.14,177.19 617.15,177.98 618.15,178.76 619.14,179.56 620.12,180.36 621.08,181.16 622.03,181.97 622.97,182.78 623.90,183.60 624.81,184.42 625.72,185.25 626.60,186.08 627.48,186.91 628.34,187.75 629.19,188.60 630.02,189.45 630.84,190.30 631.65,191.16 632.44,192.03 633.22,192.89 633.98,193.76 634.73,194.64 635.47,195.52 636.19,196.41 636.90,197.30 637.59,198.19 638.27,199.09 638.93,199.99 639.58,200.89 640.21,201.80 640.82,202.72 641.43,203.63 642.01,204.55 642.58,205.48 643.13,206.41 643.67,207.34 644.19,208.28 644.70,209.21 645.19,210.16 645.66,211.10 646.12,212.05 646.56,213.01 646.98,213.96 647.38,214.92 647.77,215.89 648.14,216.85 648.50,217.82 648.84,218.80 649.15,219.77 649.46,220.75 649.74,221.73 650.01,222.72 650.26,223.70 650.49,224.69 650.70,225.68 650.89,226.68 651.07,227.68 651.22,228.67 651.36,229.68 651.48,230.68 651.58,231.69 651.66,232.70 651.73,233.71 651.77,234.72 651.79,235.73 651.80,236.75 651.79,237.77 651.75,238.79 651.70,239.81 651.62,240.83 651.53,241.85 651.42,242.88 651.28,243.90 651.13,244.93 650.96,245.96 650.76,246.99 650.55,248.02 650.32,249.05 650.06,250.08 649.78,251.12 649.49,252.15 649.17,253.18 648.83,254.22 648.47,255.25 648.09,256.29 647.69,257.32 647.27,258.36 646.83,259.39 646.36,260.42 645.88,261.46 645.37,262.49 644.84,263.52 644.29,264.56 643.72,265.59 643.12,266.62 642.51,267.65 641.87,268.68 641.21,269.71" fill="#4472C4" stroke="#4472C4" stroke-width="0.4"/>
<polygon points="407.50,214.50 641.21,269.71 640.53,270.73 639.83,271.76 639.10,272.78 638.36,273.80 637.59,274.82 636.80,275.84 635.99,276.85 635.15,277.87 634.30,278.88 633.42,279.89 632.52,280.90 631.59,281.90 630.65,282.90 629.68,283.90 628.69,284.90 627.68,285.89 626.65,286.88 625.60,287.87 624.52,288.86 623.42,289.84 622.30,290.81 621.15,291.79 619.99,292.76 618.80,293.72 617.59,294.69 616.36,295.64 615.11,296.60 613.83,297.55 612.53,298.49 611.22,299.43 609.88,300.36 608.51,301.29 607.13,302.22 605.72,303.14 604.30,304.05 602.85,304.96 601.38,305.87 599.89,306.77 598.38,307.66 596.84,308.54 595.29,309.42 593.72,310.30 592.12,311.17 590.50,312.03 588.87,312.88 587.21,313.73 585.53,314.57 583.83,315.41 582.12,316.24 580.38,317.06 578.62,317.87 576.84,318.68 575.05,319.47 573.23,320.26 571.39,321.05 569.54,321.82 567.66,322.59 565.77,323.35 563.86,324.10 561.93,324.84 559.98,325.58 558.02,326.30 556.03,327.02 554.03,327.73 552.01,328.43 549.97,329.12 547.92,329.80 545.85,330.47 543.76,331.13 541.65,331.78 539.53,332.43 537.40,333.06 535.24,333.68 533.07,334.30 530.89,334.90 528.69,335.49 526.48,336.08 524.25,336.65 522.00,337.21 519.75,337.76 517.47,338.31 515.19,338.84 512.89,339.36 510.58,339.87 508.25,340.36 505.91,340.85 503.56,341.33 501.20,341.79 498.82,342.24 496.44,342.69 494.04,343.12 491.63,343.54 489.21,343.94 486.78,344.34 484.34,344.72 481.89,345.10 479.43,345.46 476.96,345.80 474.49,346.14 472.00,346.46 469.50,346.78 467.00,347.08 464.49,347.36 461.97,347.64 459.45,347.90 456.92,348.15 454.38,348.39 451.83,348.62 449.28,348.83 446.73,349.03 444.17,349.22 441.60,349.39 439.03,349.56 436.46,349.71 433.88,349.84 431.30,349.97 428.72,350.08 426.13,350.18 423.54,350.26 420.95,350.34 418.35,350.40 415.76,350.44 413.16,350.48 410.57,350.50 407.97,350.51 405.37,350.51 402.78,350.49 400.18,350.46 397.58,350.42 394.99,350.36 392.40,350.29 389.81,350.21 387.22,350.12 384.63,350.01 382.05,349.89 379.47,349.76 376.90,349.61 374.33,349.45 371.76,349.28 369.20,349.10 366.64,348.90 364.09,348.70 361.54,348.47 359.00,348.24 356.47,347.99 353.94,347.74 351.42,347.47 348.91,347.18 346.40,346.89 343.90,346.58 341.41,346.26 338.93,345.93 336.46,345.58 334.00,345.23 331.54,344.86 329.10,344.48 326.67,344.09 324.24,343.68 321.83,343.27 319.43,342.84 317.04,342.41 314.66,341.96 312.29,341.50 309.94,341.02 307.59,340.54 305.26,340.05 302.95,339.54 300.64,339.03 298.35,338.50 296.07,337.96 293.81,337.41 291.56,336.85 289.33,336.28 287.11,335.70 284.90,335.12 282.71,334.52 280.54,333.91 278.38,333.29 276.24,332.66 274.11,332.02 272.00,331.37 269.91,330.71 267.83,330.04 265.77,329.36 263.72,328.68 261.70,327.98 259.69,327.28 257.70,326.56 255.73,325.84 253.77,325.11 251.83,324.37 249.92,323.62 248.02,322.87 246.14,322.10 244.27,321.33 242.43,320.55 240.61,319.76 238.80,318.96 237.02,318.16 235.25,317.35 233.51,316.53 231.78,315.71 230.08,314.88 228.39,314.04 226.73,313.19 225.08,312.34 223.46,311.48 221.86,310.61 220.28,309.74 218.71,308.86 217.17,307.98 215.65,307.09 214.16,306.19 212.68,305.29" fill="#ED7D31" stroke="#ED7D31" stroke-width="0.4"/>
<polygon points="407.50,214.50 212.68,305.29 211.22,304.38 209.79,303.47 208.38,302.55 206.98,301.63 205.62,300.70 204.27,299.77 202.94,298.83 201.64,297.89 200.35,296.94 199.09,295.99 197.85,295.03 196.64,294.07 195.44,293.11 194.27,292.14 193.12,291.17 191.99,290.19 190.88,289.21 189.79,288.23 188.73,287.24 187.69,286.26 186.67,285.26 185.67,284.27 184.70,283.27 183.75,282.27 182.82,281.26 181.91,280.26 181.02,279.25 180.16,278.24 179.32,277.23 178.50,276.21 177.70,275.19 176.92,274.17 176.17,273.15 175.44,272.13 174.73,271.11 174.04,270.08 173.37,269.06 172.73,268.03 172.10,267.00 171.50,265.97 170.92,264.94 170.36,263.91 169.83,262.87 169.31,261.84 168.82,260.81 168.34,259.78 167.89,258.74 167.46,257.71 167.05,256.67 166.67,255.64 166.30,254.61 165.95,253.57 165.63,252.54 165.32,251.51 165.04,250.47 164.78,249.44 164.54,248.41 164.31,247.38 164.11,246.35 163.93,245.32 163.77,244.30 163.63,243.27 163.51,242.25 163.41,241.22 163.33,240.20 163.27,239.18 163.23,238.16 163.20,237.14 163.20,236.13 163.22,235.11 163.25,234.10 163.31,233.09 163.38,232.08 163.48,231.07 163.59,230.07 163.72,229.07 163.87,228.07 164.04,227.07 164.22,226.08 164.43,225.08 164.65,224.09 164.89,223.11 165.15,222.12 165.43,221.14 165.72,220.16 166.04,219.18 166.36,218.21 166.71,217.24 167.08,216.27 167.46,215.31 167.86,214.35 168.27,213.39 168.70,212.44" fill="#A5A5A5" stroke="#A5A5A5" stroke-width="0.4"/>
<polygon points="407.50,214.50 168.70,212.44 169.16,211.48 169.62,210.53 170.11,209.58 170.61,208.63 171.13,207.69 171.67,206.75 172.22,205.82 172.78,204.89 173.37,203.96 173.96,203.03 174.58,202.11 175.21,201.20 175.85,200.29 176.51,199.38 177.19,198.48 177.88,197.58 178.59,196.68 179.31,195.79 180.04,194.90 180.79,194.02 181.56,193.14 182.34,192.27 183.13,191.40 183.94,190.54 184.76,189.67 185.60,188.82 186.44,187.97 187.31,187.12 188.18,186.28 189.07,185.44 189.98,184.61 190.89,183.78 191.82,182.96 192.76,182.14 193.72,181.33 194.68,180.52 195.66,179.72 196.66,178.92 197.66,178.12 198.68,177.34 199.71,176.55 200.75,175.77 201.80,175.00 202.86,174.23 203.94,173.47 205.03,172.71 206.13,171.96 207.24,171.21 208.36,170.47 209.49,169.73 210.63,169.00 211.79,168.27 212.95,167.55 214.13,166.83 215.31,166.12 216.51,165.42 217.72,164.72 218.93,164.02 220.16,163.33 221.39,162.65 222.64,161.97 223.90,161.30 225.16,160.63 226.44,159.97 227.72,159.31 229.02,158.66 230.32,158.01 231.63,157.37 232.95,156.74 234.28,156.11 235.62,155.49 236.97,154.87 238.32,154.26 239.69,153.65 241.06,153.05 242.44,152.45 243.83,151.86 245.23,151.28 246.63,150.70 248.04,150.13 249.47,149.56 250.89,149.00 252.33,148.45 253.77,147.90 255.22,147.35 256.68,146.82 258.15,146.28 259.62,145.76 261.10,145.24 262.58,144.72 264.08,144.21 265.57,143.71 267.08,143.21" fill="#FFC000" stroke="#FFC000" stroke-width="0.4"/>
<polygon points="407.50,214.50 267.08,143.21 268.62,142.71 270.16,142.22 271.71,141.73 273.27,141.25 274.83,140.77 276.40,140.30 277.98,139.84 279.56,139.38 281.15,138.93 282.74,138.48 284.34,138.04 285.95,137.61 287.56,137.18 289.17,136.76 290.79,136.35 292.42,135.94 294.05,135.53 295.69,135.14 297.33,134.75 298.98,134.36 300.63,133.98 302.29,133.61 303.95,133.24 305.62,132.88 307.29,132.53 308.96,132.18" fill="#5B9BD5" stroke="#5B9BD5" stroke-width="0.4"/>
<polygon points="407.50,214.50 308.96,132.18 310.63,131.84 312.30,131.51 313.98,131.18 315.66,130.86 317.34,130.54 319.03,130.23 320.72,129.93 322.42,129.63 324.12,129.34 325.82,129.06 327.53,128.78 329.24,128.51 330.95,128.24 332.67,127.98 334.39,127.72" fill="#70AD47" stroke="#70AD47" stroke-width="0.4"/>
<polygon points="407.50,214.50 334.39,127.72 336.17,127.46 337.97,127.21 339.76,126.97 341.56,126.73 343.36,126.50 345.16,126.27 346.97,126.05 348.77,125.84 350.59,125.63" fill="#264478" stroke="#264478" stroke-width="0.4"/>
<polygon points="407.50,214.50 350.59,125.63 352.37,125.44 354.16,125.25 355.95,125.06 357.74,124.89 359.53,124.72 361.33,124.55 363.12,124.39" fill="#9E480E" stroke="#9E480E" stroke-width="0.4"/>
<polygon points="407.50,214.50 363.12,124.39 365.09,124.23 367.07,124.07 369.04,123.92 371.02,123.78 373.00,123.64" fill="#636363" stroke="#636363" stroke-width="0.4"/>
<polygon points="407.50,214.50 373.00,123.64 375.00,123.51 377.01,123.39 379.02,123.27 381.03,123.17 383.04,123.07" fill="#997300" stroke="#997300" stroke-width="0.4"/>
<polygon points="407.50,214.50 383.04,123.07 385.05,122.98 387.07,122.90 389.08,122.82 391.10,122.75 393.11,122.69" fill="#255E91" stroke="#255E91" stroke-width="0.4"/>
<polygon points="407.50,214.50 393.11,122.69 395.03,122.65 396.95,122.60 398.87,122.57 400.78,122.54 402.70,122.52" fill="#43682B" stroke="#43682B" stroke-width="0.4"/>
<polygon points="407.50,214.50 402.70,122.52 405.10,122.50 407.50,122.50" fill="#698ED0" stroke="#698ED0" stroke-width="0.4"/>
<g clip-path="url(#pieclip)">
<polyline points="640.11,271.34 638.64,273.42 637.08,275.48 635.42,277.54 633.68,279.59 631.84,281.63 629.92,283.66 627.90,285.68 625.79,287.69 623.60,289.68 621.31,291.66 618.93,293.62 616.46,295.57 613.90,297.50 611.25,299.41 608.51,301.30 605.68,303.17 602.77,305.01 599.77,306.84 596.68,308.64 593.50,310.42 590.24,312.17 586.89,313.89 583.46,315.59 579.95,317.26 576.36,318.89 572.68,320.50 568.93,322.07 565.10,323.61 561.19,325.12 557.21,326.59 553.16,328.03 549.03,329.43 544.83,330.79 540.57,332.11 536.23,333.40 531.84,334.64 527.38,335.84 522.85,337.00 518.27,338.12 513.63,339.19 508.94,340.22 504.20,341.20 499.40,342.14 494.56,343.03 489.67,343.87 484.74,344.66 479.76,345.41 474.75,346.10 469.71,346.75 464.63,347.35 459.52,347.90 454.38,348.39 449.22,348.84 444.03,349.23 438.83,349.57 433.60,349.86 428.37,350.09 423.12,350.28 417.86,350.41" fill="none" stroke="url(#gDk)" stroke-width="7" filter="url(#blur2)"/>
</g>
<g clip-path="url(#topclip)">
<polyline points="632.92,192.56 634.45,194.30 635.91,196.06 637.32,197.83 638.66,199.62 639.95,201.43 641.18,203.25 642.34,205.09 643.45,206.95 644.48,208.81 645.46,210.70 646.37,212.59 647.21,214.50 647.98,216.42 648.69,218.36 649.32,220.30 649.89,222.26 650.38,224.23 650.80,226.21 651.15,228.20 651.43,230.20 651.63,232.20 651.75,234.22 651.80,236.24 651.77,238.27 651.66,240.31 651.48,242.35 651.21,244.40 650.87,246.45 650.44,248.51 649.93,250.57 649.34,252.63 648.67,254.69 647.91,256.76 647.07,258.82 646.15,260.88 645.14,262.95 644.04,265.01 642.86,267.06 641.59,269.12 640.24,271.16" fill="none" stroke="#16264a" stroke-opacity="0.55" stroke-width="1.6"/>
<polyline points="483.76,344.81 478.81,345.54 473.83,346.23 468.81,346.86 463.76,347.45 458.68,347.98 453.57,348.46 448.44,348.90 443.29,349.28 438.12,349.61 432.93,349.89 427.73,350.12 422.52,350.29 417.30,350.42 412.07,350.49 406.85,350.51 401.62,350.48 396.40,350.39 391.18,350.26 385.97,350.07 380.77,349.83 375.59,349.53 370.42,349.19 365.27,348.79 360.15,348.35 355.05,347.85 349.97,347.30 344.93,346.71 339.92,346.06 334.95,345.37 330.01,344.62 325.12,343.83 320.26,342.99 315.46,342.11 310.69,341.18 305.98,340.20 301.32,339.18 296.72,338.11 292.17,337.01 287.68,335.86 283.25,334.66 278.88,333.43 274.58,332.16 270.34,330.84 266.17,329.49 262.06,328.11 258.03,326.68 254.07,325.22 250.19,323.73 246.38,322.20 242.64,320.64 238.99,319.05 235.41,317.42 231.92,315.77 228.50,314.09 225.17,312.38 221.92,310.65 218.75,308.89 215.67,307.10 212.68,305.29" fill="none" stroke="url(#gEdgeO)" stroke-width="2.8"/>
<polyline points="212.68,305.29 209.76,303.45 206.92,301.59 204.17,299.70 201.51,297.80 198.94,295.88 196.46,293.94 194.08,291.98 191.78,290.01 189.57,288.02 187.45,286.02 185.42,284.01 183.48,281.98 181.63,279.95 179.88,277.90 178.21,275.85 176.63,273.79 175.15,271.72 173.75,269.65 172.44,267.57 171.22,265.48 170.09,263.40 169.05,261.31 168.10,259.21 167.23,257.12 166.45,255.03 165.75,252.94 165.14,250.85 164.62,248.76 164.17,246.68 163.82,244.60 163.54,242.52 163.35,240.45 163.23,238.39 163.20,236.33 163.25,234.28 163.37,232.23 163.57,230.20" fill="none" stroke="#C2C2C2" stroke-width="2.2"/>
</g>
<polygon points="724.60,140.30 782.60,140.30 782.60,175.60 724.60,175.60 724.60,169.72 594.40,162.30 724.60,160.89" fill="#fff" stroke="#5378BE" stroke-width="1.05" stroke-linejoin="miter"/>
<text x="729.4" y="154.9" textLength="47.4" lengthAdjust="spacingAndGlyphs" fill="#4472C4" class="lb">COLUMN</text>
<text x="742.4" y="170.1" textLength="23.1" lengthAdjust="spacingAndGlyphs" fill="#4472C4" class="lb">32%</text>
<polygon points="608.70,376.50 687.60,376.50 687.60,412.00 608.70,412.00 608.70,391.29 453.75,346.90 608.70,382.42" fill="#fff" stroke="#5378BE" stroke-width="1.05" stroke-linejoin="miter"/>
<text x="613.4" y="391.1" textLength="69.1" lengthAdjust="spacingAndGlyphs" fill="#ED7D31" class="lb">FLOOR BEAM</text>
<text x="637.0" y="406.3" textLength="23.5" lengthAdjust="spacingAndGlyphs" fill="#ED7D31" class="lb">30%</text>
<polygon points="28.20,263.50 102.30,263.50 102.30,269.43 170.30,258.50 102.30,278.33 102.30,299.10 28.20,299.10" fill="#fff" stroke="#5378BE" stroke-width="1.05" stroke-linejoin="miter"/>
<text x="33.5" y="278.1" textLength="64.0" lengthAdjust="spacingAndGlyphs" fill="#A5A5A5" class="lb">FLOOR SLAB</text>
<text x="55.1" y="293.3" textLength="22.1" lengthAdjust="spacingAndGlyphs" fill="#A5A5A5" class="lb">13%</text>
<polygon points="16.40,170.00 74.10,170.00 74.10,175.92 205.50,171.80 74.10,184.79 74.10,205.50 16.40,205.50" fill="#fff" stroke="#5378BE" stroke-width="1.05" stroke-linejoin="miter"/>
<text x="20.7" y="184.6" textLength="48.1" lengthAdjust="spacingAndGlyphs" fill="#FFC000" class="lb">FOOTING</text>
<text x="33.9" y="199.8" textLength="22.2" lengthAdjust="spacingAndGlyphs" fill="#FFC000" class="lb">13%</text>
<polygon points="32.60,125.80 111.50,125.80 111.50,131.73 288.75,136.50 111.50,140.63 111.50,161.40 32.60,161.40" fill="#fff" stroke="#5378BE" stroke-width="1.05" stroke-linejoin="miter"/>
<text x="38.3" y="140.4" textLength="67.5" lengthAdjust="spacingAndGlyphs" fill="#5B9BD5" class="lb">GRADE_SLAB</text>
<text x="63.9" y="155.6" textLength="16.0" lengthAdjust="spacingAndGlyphs" fill="#5B9BD5" class="lb">4%</text>
<polygon points="69.10,88.30 151.60,88.30 151.60,108.66 322.50,129.40 151.60,117.38 151.60,123.20 69.10,123.20" fill="#fff" stroke="#5378BE" stroke-width="1.05" stroke-linejoin="miter"/>
<text x="74.8" y="102.9" textLength="72.0" lengthAdjust="spacingAndGlyphs" fill="#70AD47" class="lb">PLINTH BEAM</text>
<text x="103.5" y="118.1" textLength="15.5" lengthAdjust="spacingAndGlyphs" fill="#70AD47" class="lb">2%</text>
<polygon points="132.00,50.00 219.20,50.00 219.20,70.53 340.60,126.30 219.20,79.33 219.20,85.20 132.00,85.20" fill="#fff" stroke="#5378BE" stroke-width="1.05" stroke-linejoin="miter"/>
<text x="137.0" y="64.6" textLength="77.5" lengthAdjust="spacingAndGlyphs" fill="#264478" class="lb">UG TANK SLAB</text>
<text x="168.0" y="79.8" textLength="15.5" lengthAdjust="spacingAndGlyphs" fill="#264478" class="lb">1%</text>
<polygon points="243.60,51.50 308.50,51.50 308.50,86.40 297.68,86.40 354.40,124.40 281.46,86.40 243.60,86.40" fill="#fff" stroke="#5378BE" stroke-width="1.05" stroke-linejoin="miter"/>
<text x="248.5" y="66.1" textLength="55.0" lengthAdjust="spacingAndGlyphs" fill="#9E480E" class="lb">STAIRCASE</text>
<text x="268.0" y="81.3" textLength="15.5" lengthAdjust="spacingAndGlyphs" fill="#9E480E" class="lb">1%</text>
<polygon points="316.80,50.20 361.40,50.20 361.40,85.50 353.97,85.50 369.40,122.90 342.82,85.50 316.80,85.50" fill="#fff" stroke="#5378BE" stroke-width="1.05" stroke-linejoin="miter"/>
<text x="321.6" y="64.8" textLength="34.2" lengthAdjust="spacingAndGlyphs" fill="#636363" class="lb">LINTEL</text>
<text x="331.3" y="80.0" textLength="15.6" lengthAdjust="spacingAndGlyphs" fill="#636363" class="lb">1%</text>
<polygon points="365.80,52.00 393.70,52.00 393.70,87.30 377.43,87.30 378.10,122.50 370.45,87.30 365.80,87.30" fill="#fff" stroke="#5378BE" stroke-width="1.05" stroke-linejoin="miter"/>
<text x="370.1" y="66.6" textLength="20.0" lengthAdjust="spacingAndGlyphs" fill="#997300" class="lb">SILL</text>
<text x="372.4" y="81.8" textLength="15.1" lengthAdjust="spacingAndGlyphs" fill="#997300" class="lb">1%</text>
<polygon points="407.90,51.50 455.20,51.50 455.20,86.70 427.61,86.70 390.60,122.40 415.78,86.70 407.90,86.70" fill="#fff" stroke="#5378BE" stroke-width="1.05" stroke-linejoin="miter"/>
<text x="412.7" y="66.1" textLength="37.2" lengthAdjust="spacingAndGlyphs" fill="#255E91" class="lb">CHAJJA</text>
<text x="424.2" y="81.3" textLength="14.2" lengthAdjust="spacingAndGlyphs" fill="#255E91" class="lb">1%</text>
<polygon points="466.50,51.50 531.40,51.50 531.40,86.70 466.50,86.70 466.50,80.83 402.00,122.30 466.50,72.03" fill="#fff" stroke="#5378BE" stroke-width="1.05" stroke-linejoin="miter"/>
<text x="470.9" y="66.1" textLength="56.2" lengthAdjust="spacingAndGlyphs" fill="#43682B" class="lb">RCC_WALL</text>
<text x="492.5" y="81.3" textLength="14.7" lengthAdjust="spacingAndGlyphs" fill="#43682B" class="lb">1%</text>
<polygon points="552.40,51.10 648.50,51.10 648.50,86.40 552.40,86.40 552.40,80.52 405.30,122.30 552.40,71.69" fill="#fff" stroke="#5378BE" stroke-width="1.05" stroke-linejoin="miter"/>
<text x="557.7" y="65.7" textLength="84.8" lengthAdjust="spacingAndGlyphs" fill="#698ED0" class="lb">PLINTH_COPING</text>
<text x="592.5" y="80.9" textLength="15.6" lengthAdjust="spacingAndGlyphs" fill="#698ED0" class="lb">0%</text>
<polygon points="560.30,95.50 601.80,95.50 601.80,130.60 560.30,130.60 560.30,124.75 407.50,122.30 560.30,115.97" fill="#fff" stroke="#5378BE" stroke-width="1.05" stroke-linejoin="miter"/>
<text x="565.7" y="110.1" textLength="31.5" lengthAdjust="spacingAndGlyphs" fill="#F1975A" class="lb">RAMP</text>
<text x="572.7" y="125.3" textLength="16.0" lengthAdjust="spacingAndGlyphs" fill="#F1975A" class="lb">0%</text>
<text x="266.6" y="27.2" textLength="47.9" lengthAdjust="spacingAndGlyphs" fill="#4a4a4a" style="font:bold 16.7px 'Liberation Sans',sans-serif">STEEL</text>
<text x="319.3" y="27.2" textLength="87.2" lengthAdjust="spacingAndGlyphs" fill="#4a4a4a" style="font:bold 16.7px 'Liberation Sans',sans-serif">QUANTITY</text>
<text x="414.6" y="27.2" textLength="77.6" lengthAdjust="spacingAndGlyphs" fill="#4a4a4a" style="font:bold 16.7px 'Liberation Sans',sans-serif">ELEMENT</text>
<text x="498.1" y="27.2" textLength="43.0" lengthAdjust="spacingAndGlyphs" fill="#4a4a4a" style="font:bold 16.7px 'Liberation Sans',sans-serif">WISE</text>
<rect x="0" y="429.5" width="800" height="1.5" fill="#E2E2E2"/>
</svg>
</body></html>
